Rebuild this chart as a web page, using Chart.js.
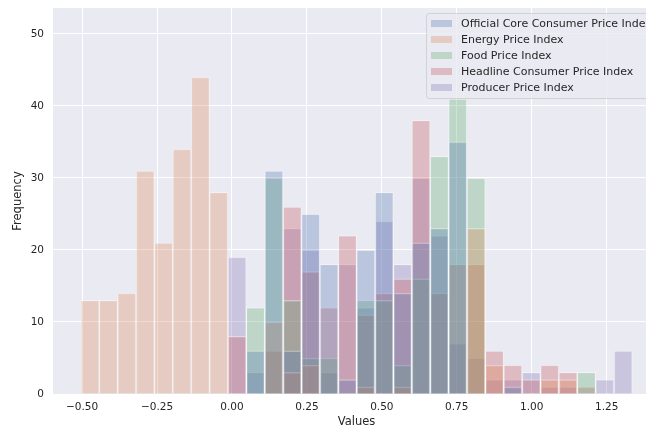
<!DOCTYPE html>
<html><head><meta charset="utf-8">
<script src="https://cdn.jsdelivr.net/npm/chart.js@4.4.0/dist/chart.umd.min.js"></script>
<style>
html,body{margin:0;padding:0;background:#fff;overflow:hidden;}
#wrap{width:646px;height:429px;overflow:hidden;position:relative;}
canvas{display:block;}
</style></head><body>
<div id="wrap"><canvas id="c" width="660" height="429"></canvas></div>
<script>
// Histogram bin centres (common bins, width ~0.0613)
const binCenters = [-0.4733,-0.4120,-0.3507,-0.2893,-0.2280,-0.1667,-0.1053,-0.0440,0.0173,0.0787,
  0.1400,0.2013,0.2627,0.3240,0.3853,0.4467,0.5080,0.5693,0.6307,0.6920,
  0.7533,0.8147,0.8760,0.9373,0.9987,1.0600,1.1213,1.1827,1.2440,1.3053];

const seriesNames = ["Official Core Consumer Price Index","Energy Price Index","Food Price Index",
  "Headline Consumer Price Index","Producer Price Index"];

const coreCPI  = [0,0,0,0,0,0,0,0,0,6,31,6,25,18,2,20,28,14,21,23,35,0,0,1,0,0,0,0,0,0];
const energy   = [13,13,14,31,21,34,44,28,0,0,10,3,4,0,0,1,0,1,0,0,0,23,4,0,0,2,2,0,0,0];
const food     = [0,0,0,0,0,0,0,0,0,12,30,13,5,5,0,13,13,4,16,33,41,30,0,0,0,0,0,3,0,0];
const headline = [0,0,0,0,0,0,0,0,8,0,6,26,17,12,22,11,14,16,38,14,18,18,6,4,2,4,3,1,0,0];
const ppi      = [0,0,0,0,0,0,0,0,19,3,0,23,20,3,18,12,24,18,30,22,7,5,2,2,3,1,1,0,2,6];

const xTicks = [-0.5,-0.25,0,0.25,0.5,0.75,1.0,1.25];
const yTicks = [0,10,20,30,40,50];

const colors = ['rgba(76,114,176,0.3)','rgba(221,132,82,0.3)','rgba(85,168,104,0.3)',
  'rgba(196,78,82,0.3)','rgba(129,114,179,0.3)'];
const seriesValues = [coreCPI, energy, food, headline, ppi];

Chart.defaults.font.family = '"DejaVu Sans", sans-serif';
Chart.defaults.color = '#262626';

const bgPlugin = {
  id: 'bg',
  beforeDraw(chart) {
    const a = chart.chartArea, ctx = chart.ctx;
    ctx.save();
    ctx.fillStyle = '#eaeaf2';
    ctx.fillRect(a.left, a.top, a.right - a.left, a.bottom - a.top);
    ctx.restore();
  }
};

const legendPlugin = {
  id: 'innerLegend',
  afterDraw(chart) {
    const ctx = chart.ctx;
    ctx.save();
    ctx.beginPath();
    ctx.roundRect(426.5, 13.5, 250, 85, 3);
    ctx.fillStyle = 'rgba(234,234,242,0.8)';
    ctx.fill();
    ctx.strokeStyle = 'rgba(204,204,204,0.8)';
    ctx.lineWidth = 1;
    ctx.stroke();
    ctx.font = '11px "DejaVu Sans", sans-serif';
    ctx.textBaseline = 'middle';
    chart.data.datasets.forEach((ds, i) => {
      const cy = 23.5 + i * 16;
      ctx.fillStyle = ds.backgroundColor;
      ctx.fillRect(431, cy - 3.5, 21, 7);
      ctx.fillStyle = '#262626';
      ctx.fillText(ds.label, 461, cy + 0.5);
    });
    ctx.restore();
  }
};

const datasets = seriesNames.map((name, k) => ({
  label: name,
  data: binCenters.map((x, i) => ({x: x, y: seriesValues[k][i] ? seriesValues[k][i] : null})),
  backgroundColor: colors[k],
  borderColor: 'rgba(255,255,255,0.35)',
  borderWidth: 1,
  barPercentage: 1,
  categoryPercentage: 1,
  grouped: false
}));

new Chart(document.getElementById('c'), {
  type: 'bar',
  data: { datasets },
  plugins: [bgPlugin, legendPlugin],
  options: {
    responsive: false,
    devicePixelRatio: 1,
    animation: false,
    layout: { padding: { top: 8, right: 0, left: 0, bottom: 0 } },
    plugins: { legend: { display: false }, tooltip: { enabled: false } },
    scales: {
      x: {
        type: 'linear',
        min: -0.597, max: 1.428,
        offset: false,
        afterBuildTicks: s => { s.ticks = xTicks.map(v => ({value: v})); },
        afterFit: s => { s.height = 35; s.paddingLeft = 0; s.paddingRight = 0; },
        grid: { color: '#ffffff', lineWidth: 1, drawTicks: false, offset: false },
        border: { display: false },
        ticks: {
          padding: 7, maxRotation: 0, autoSkip: false,
          font: { size: 10.5 }, color: '#262626',
          callback: v => v.toFixed(2).replace('-', '\u2212')
        },
        title: { display: true, text: 'Values', font: { size: 11.5 }, color: '#262626', padding: { top: 0, bottom: 0 } }
      },
      y: {
        type: 'linear',
        min: 0, max: 53.6,
        afterBuildTicks: s => { s.ticks = yTicks.map(v => ({value: v})); },
        afterFit: s => { s.width = 53; s.paddingTop = 0; s.paddingBottom = 0; },
        grid: { color: '#ffffff', lineWidth: 1, drawTicks: false },
        border: { display: false },
        ticks: { padding: 9, font: { size: 10.5 }, color: '#262626', callback: v => String(v) },
        title: { display: true, text: 'Frequency', font: { size: 11.5 }, color: '#262626', padding: { top: 11, bottom: 0 } }
      }
    }
  }
});
</script>
</body></html>
